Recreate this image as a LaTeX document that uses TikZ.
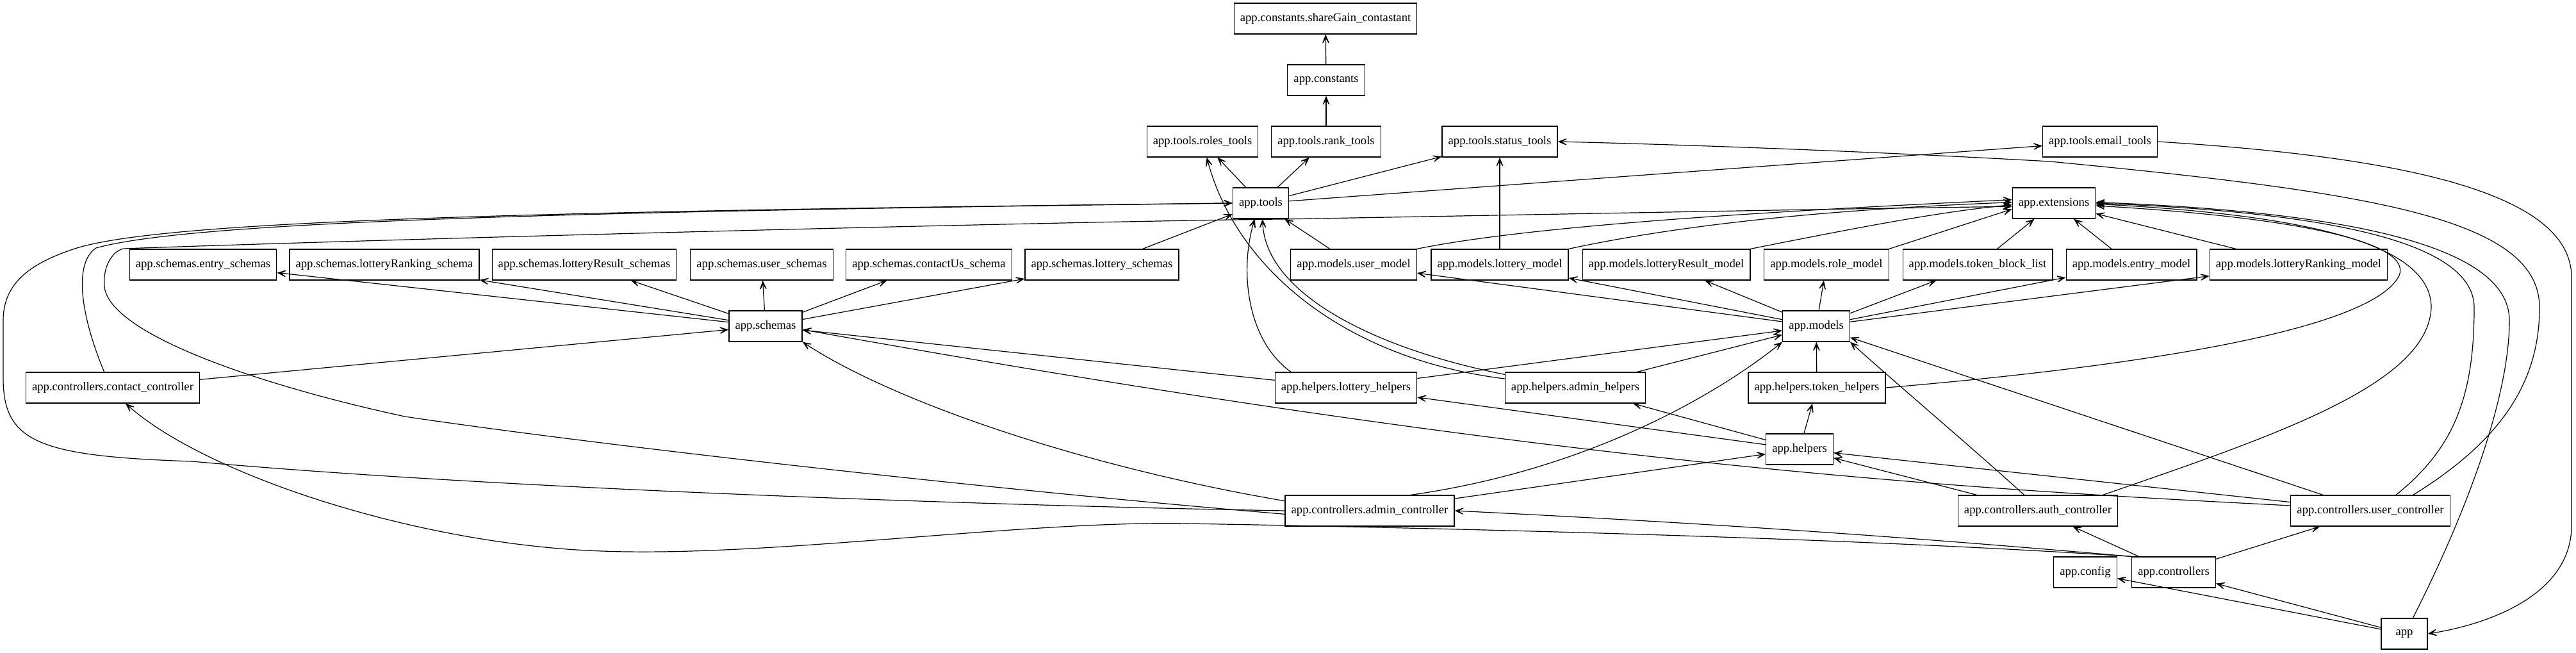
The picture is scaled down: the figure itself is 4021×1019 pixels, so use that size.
\documentclass[tikz,border=0pt]{standalone}
\usepackage{fontspec}
\setmainfont{Liberation Serif}
\usepackage{tikz}
\usetikzlibrary{arrows.meta}

\tikzset{
    module/.style={draw, line width=0.9pt, minimum height=36pt, minimum width=54pt,
        inner xsep=7.2pt, font=\fontsize{14pt}{16pt}\selectfont},
    dep/.style={line width=0.9pt, -{Stealth[length=15pt, width=12pt, inset=10pt]}},
}

\begin{document}
\begin{tikzpicture}[x=0.75pt, y=-0.75pt]
    \useasboundingbox (0,0) rectangle (4021,1019);

    % top rows
    \node[module] (sharegain) at (2069,29) {app.constants.shareGain\_contastant};
    \node[module] (constants) at (2070,125) {app.constants};
    \node[module] (rolestools) at (1877,221) {app.tools.roles\_tools};
    \node[module] (ranktools) at (2070,221) {app.tools.rank\_tools};
    \node[module] (statustools) at (2341,221) {app.tools.status\_tools};
    \node[module] (emailtools) at (3278,221) {app.tools.email\_tools};
    \node[module] (tools) at (1968,317) {app.tools};
    \node[module] (extensions) at (3206,317) {app.extensions};

    % schemas and models
    \node[module] (entrysch) at (317,413) {app.schemas.entry\_schemas};
    \node[module] (rankingsch) at (600,413) {app.schemas.lotteryRanking\_schema};
    \node[module] (resultsch) at (912,413) {app.schemas.lotteryResult\_schemas};
    \node[module] (usersch) at (1189,413) {app.schemas.user\_schemas};
    \node[module] (contactsch) at (1450,413) {app.schemas.contactUs\_schema};
    \node[module] (lotterysch) at (1720,413) {app.schemas.lottery\_schemas};
    \node[module] (usermodel) at (2113,413) {app.models.user\_model};
    \node[module] (lotterymodel) at (2341,413) {app.models.lottery\_model};
    \node[module] (resultmodel) at (2601,413) {app.models.lotteryResult\_model};
    \node[module] (rolemodel) at (2851,413) {app.models.role\_model};
    \node[module] (blocklist) at (3087,413) {app.models.token\_block\_list};
    \node[module] (entrymodel) at (3327,413) {app.models.entry\_model};
    \node[module] (rankingmodel) at (3588,413) {app.models.lotteryRanking\_model};
    \node[module] (schemas) at (1195,509) {app.schemas};
    \node[module] (models) at (2835,509) {app.models};

    % helpers and controllers
    \node[module] (contactctrl) at (176,605) {app.controllers.contact\_controller};
    \node[module] (lotteryhelp) at (2101,605) {app.helpers.lottery\_helpers};
    \node[module] (adminhelp) at (2459,605) {app.helpers.admin\_helpers};
    \node[module] (tokenhelp) at (2836,605) {app.helpers.token\_helpers};
    \node[module] (helpers) at (2809,701) {app.helpers};
    \node[module] (adminctrl) at (2138,797) {app.controllers.admin\_controller};
    \node[module] (authctrl) at (3181,797) {app.controllers.auth\_controller};
    \node[module] (userctrl) at (3700,797) {app.controllers.user\_controller};
    \node[module] (config) at (3255,893) {app.config};
    \node[module] (controllers) at (3393,893) {app.controllers};
    \node[module] (app) at (3753,989) {app};

    % straight imports
    \draw[dep] (constants) -- (sharegain);
    \draw[dep] (ranktools) -- (constants);
    \foreach \t in {rolestools, ranktools, statustools, emailtools}
        \draw[dep] (tools) -- (\t);
    \draw[dep] (lotterymodel) -- (statustools);
    \draw[dep] (usermodel) -- (tools);
    \draw[dep] (lotterysch) -- (tools);
    \foreach \t in {entrysch, rankingsch, resultsch, usersch, contactsch, lotterysch}
        \draw[dep] (schemas) -- (\t);
    \foreach \t in {usermodel, lotterymodel, resultmodel, rolemodel, blocklist, entrymodel, rankingmodel}
        \draw[dep] (models) -- (\t);
    \foreach \s in {blocklist, entrymodel, rankingmodel}
        \draw[dep] (\s) -- (extensions);
    \draw[dep] (usermodel.north east) .. controls (2400,350) and (2800,328) .. ([yshift=4pt]extensions.west);
    \draw[dep] (lotterymodel.north east) .. controls (2650,345) and (2900,325) .. ([yshift=1pt]extensions.west);
    \draw[dep] (resultmodel.north east) .. controls (2900,355) and (3030,330) .. ([yshift=-2pt]extensions.west);
    \draw[dep] (rolemodel.north east) -- ([yshift=-7pt]extensions.west);
    \draw[dep] (contactctrl) -- (schemas);
    \draw[dep] (lotteryhelp) -- (schemas);
    \draw[dep] (lotteryhelp) -- (models);
    \draw[dep] (adminhelp) -- (models);
    \draw[dep] (tokenhelp) -- (models);
    \foreach \t in {lotteryhelp, adminhelp, tokenhelp}
        \draw[dep] (helpers) -- (\t);
    \draw[dep] (adminctrl) -- (helpers);
    \draw[dep] (authctrl) -- (helpers);
    \draw[dep] (userctrl) -- (helpers);
    \draw[dep] (userctrl) -- (models);
    \draw[dep] (controllers) -- (authctrl);
    \draw[dep] (controllers) -- (userctrl);
    \draw[dep] (app) -- (config);
    \draw[dep] (app) -- (controllers);

    % curved imports
    \draw[dep] ([xshift=19pt]lotteryhelp.north west) .. controls (1945,530) and (1935,420) .. ([xshift=-7pt]tools.south);
    \draw[dep] ([yshift=-3pt]adminhelp.north west) .. controls (2150,545) and (1975,460) .. ([xshift=2pt]tools.south);
    \draw[dep] ([yshift=-8pt]adminhelp.north west) .. controls (2100,560) and (1930,420) .. ([xshift=5pt]rolestools.south);
    \draw[dep] ([xshift=48pt]adminctrl.north) .. controls (2500,730) and (2700,600) .. (models.south west);
    \draw[dep] ([yshift=-7pt]adminctrl.north west) .. controls (1700,730) and (1400,630) .. (schemas.south east);
    \draw[dep] ([xshift=-16pt]authctrl.north) .. controls (3080,700) and (2950,590) .. (models.south east);
    \draw[dep] ([yshift=6pt]userctrl.west) .. controls (3000,760) and (2400,720) .. ([yshift=-4pt]schemas.east);
    \draw[dep] (controllers.north west) .. controls (3000,840) and (2700,818) .. (adminctrl.east);
    \draw[dep] (controllers.north west) .. controls (2900,840) and (2300,825) .. (1853,817)
        .. controls (1600,812) and (1200,870) .. (940,860)
        .. controls (650,850) and (320,740) .. ([xshift=15pt]contactctrl.south);
    \draw[dep] ([xshift=-10pt]contactctrl.north) .. controls (125,490) and (115,410) .. (150,387)
        .. controls (300,345) and (900,330) .. (tools.west);
    \draw[dep] (adminctrl.west) .. controls (1600,790) and (800,765) .. (300,720)
        .. controls (60,712) and (5,690) .. (5,590) -- (5,500)
        .. controls (5,440) and (50,410) .. (117,388)
        .. controls (250,345) and (800,330) .. (tools.west);
    \draw[dep] ([yshift=-4pt]adminctrl.west) .. controls (1500,760) and (900,690) .. (632,650)
        .. controls (400,600) and (170,520) .. (163,447)
        .. controls (160,410) and (180,390) .. (193,388)
        .. controls (700,370) and (1700,345) .. (2000,342)
        .. controls (2400,335) and (2900,325) .. ([yshift=-4pt]extensions.west);
    \draw[dep] (tokenhelp.east) .. controls (3300,575) and (3700,520) .. (3745,430)
        .. controls (3765,380) and (3600,340) .. ([yshift=-3pt]extensions.east);
    \draw[dep] ([xshift=-18pt]authctrl.north east) .. controls (3550,680) and (3790,600) .. (3795,480)
        .. controls (3795,380) and (3600,335) .. ([yshift=-1pt]extensions.east);
    \draw[dep] ([xshift=30pt]userctrl.north) .. controls (3830,700) and (3862,620) .. (3862,480)
        .. controls (3862,370) and (3600,330) .. (extensions.east);
    \draw[dep] ([xshift=50pt]userctrl.north) .. controls (3900,690) and (3964,600) .. (3964,480)
        .. controls (3964,340) and (3700,300) .. (3200,252)
        .. controls (2900,235) and (2600,225) .. (statustools.east);
    \draw[dep] ([xshift=10pt]app.north) .. controls (3850,800) and (3917,620) .. (3917,500)
        .. controls (3917,380) and (3650,330) .. ([yshift=1pt]extensions.east);
    \draw[dep] (emailtools.east) .. controls (3750,245) and (4010,300) .. (4014,430)
        -- (4014,820) .. controls (4014,930) and (3880,975) .. (app.east);
\end{tikzpicture}
\end{document}
